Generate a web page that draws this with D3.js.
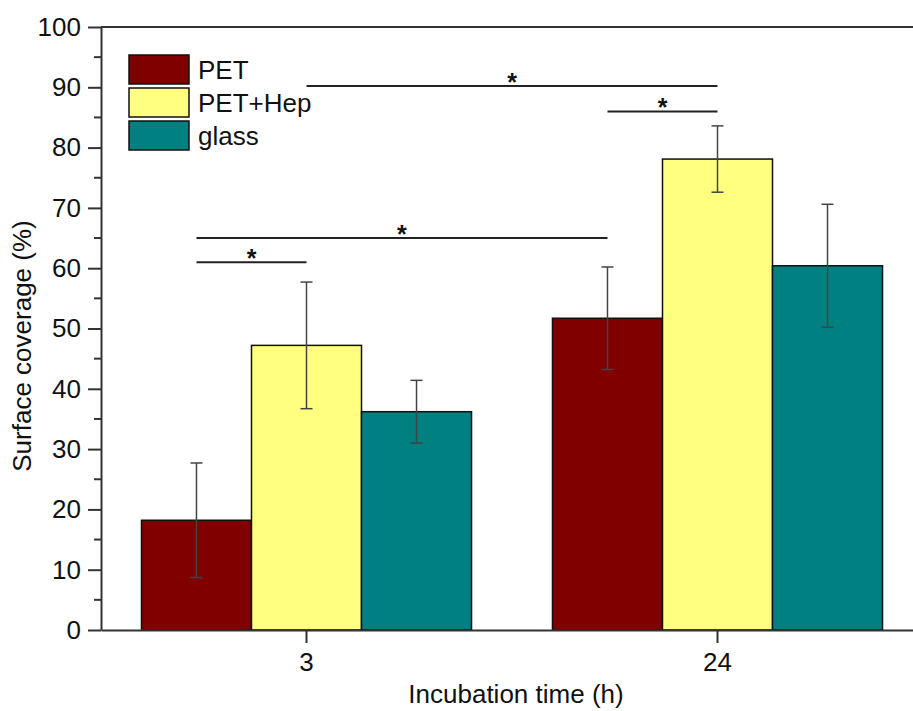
<!DOCTYPE html>
<html>
<head>
<meta charset="utf-8">
<script src="https://cdn.jsdelivr.net/npm/d3@7"></script>
<style>
  body { margin: 0; background: #fff; }
  svg { display: block; font-family: "Liberation Sans", Arial, sans-serif; }
</style>
</head>
<body>
<svg id="chart" width="913" height="711"></svg>
<script>
// ---- data ----
const categories = ["3", "24"];
const seriesNames = ["PET", "PET+Hep", "glass"];
const PET = [18.2, 51.7];
const PETHep = [47.2, 78.1];
const glass = [36.2, 60.4];
const PET_err = [9.5, 8.5];
const PETHep_err = [10.5, 5.5];
const glass_err = [5.2, 10.2];
const yTicks = [0, 10, 20, 30, 40, 50, 60, 70, 80, 90, 100];
// significance brackets: [category1, series1, category2, series2, level]
const sigBrackets = [
  ["3", "PET", "3", "PET+Hep", 61],
  ["3", "PET", "24", "PET", 65],
  ["24", "PET", "24", "PET+Hep", 86],
  ["3", "PET+Hep", "24", "PET+Hep", 90.2]
];
const colors = ["#800000", "#FFFF80", "#008080"];

(function () {
const values = [PET, PETHep, glass];
const errs = [PET_err, PETHep_err, glass_err];

const svg = d3.select("#chart");
const mLeft = 101, mRight = 923, mTop = 27, mBottom = 630;

const x = d3.scaleBand().domain(categories).range([mLeft, mRight])
  .paddingInner(0.197).paddingOuter(0.0985);
const xs = d3.scaleBand().domain(seriesNames).range([0, x.bandwidth()]);
const y = d3.scaleLinear().domain([0, 100]).range([mBottom, mTop]);

const rows = [];
categories.forEach((c, ci) => {
  seriesNames.forEach((s, si) => {
    rows.push({cat: c, ser: s, v: values[si][ci], e: errs[si][ci], color: colors[si]});
  });
});

// bars
svg.append("g").selectAll("rect").data(rows).join("rect")
  .attr("x", d => x(d.cat) + xs(d.ser))
  .attr("y", d => y(d.v))
  .attr("width", xs.bandwidth())
  .attr("height", d => y(0) - y(d.v))
  .attr("fill", d => d.color)
  .attr("stroke", "#111")
  .attr("stroke-width", 1.5);

// error bars
const eb = svg.append("g").attr("stroke", "#444").attr("stroke-width", 1.5);
rows.forEach(d => {
  const cx = x(d.cat) + xs(d.ser) + xs.bandwidth() / 2;
  eb.append("line").attr("x1", cx).attr("x2", cx).attr("y1", y(d.v + d.e)).attr("y2", y(d.v - d.e));
  [d.v + d.e, d.v - d.e].forEach(v => {
    eb.append("line").attr("x1", cx - 6).attr("x2", cx + 6).attr("y1", y(v)).attr("y2", y(v));
  });
});

// significance brackets
const sg = svg.append("g");
sigBrackets.forEach(b => {
  const x1 = x(b[0]) + xs(b[1]) + xs.bandwidth() / 2;
  const x2 = x(b[2]) + xs(b[3]) + xs.bandwidth() / 2;
  sg.append("line").attr("x1", x1).attr("x2", x2).attr("y1", y(b[4])).attr("y2", y(b[4]))
    .attr("stroke", "#222").attr("stroke-width", 2);
  sg.append("text").attr("x", (x1 + x2) / 2).attr("y", y(b[4]) + 5)
    .attr("text-anchor", "middle").attr("font-size", 25).attr("font-weight", "bold")
    .attr("fill", "#111").text("*");
});

// axes
const yAxis = d3.axisLeft(y).tickValues(yTicks).tickSize(13).tickPadding(7).tickSizeOuter(0);
const gy = svg.append("g").attr("transform", `translate(${mLeft},0)`).call(yAxis);
gy.selectAll("text").attr("font-size", 26).attr("fill", "#111").attr("font-family", "Liberation Sans, Arial, sans-serif");
gy.selectAll("line").attr("stroke", "#333").attr("stroke-width", 2);
gy.select(".domain").attr("stroke", "#333").attr("stroke-width", 2);

// minor ticks
const minor = d3.range(5, 100, 10);
svg.append("g").selectAll("line").data(minor).join("line")
  .attr("x1", mLeft - 7).attr("x2", mLeft).attr("y1", d => y(d)).attr("y2", d => y(d))
  .attr("stroke", "#333").attr("stroke-width", 2);

const xAxis = d3.axisBottom(x).tickSize(13).tickPadding(10).tickSizeOuter(0);
const gx = svg.append("g").attr("transform", `translate(0,${mBottom})`).call(xAxis);
gx.selectAll("text").attr("font-size", 26).attr("fill", "#111").attr("font-family", "Liberation Sans, Arial, sans-serif");
gx.selectAll("line").attr("stroke", "#333").attr("stroke-width", 2);
gx.select(".domain").attr("stroke", "#333").attr("stroke-width", 2);

// frame top & right
svg.append("line").attr("x1", mLeft).attr("x2", mRight).attr("y1", mTop).attr("y2", mTop)
  .attr("stroke", "#333").attr("stroke-width", 2);
svg.append("line").attr("x1", mRight).attr("x2", mRight).attr("y1", mTop).attr("y2", mBottom)
  .attr("stroke", "#333").attr("stroke-width", 2);

// axis titles
svg.append("text").attr("x", 516).attr("y", 703).attr("text-anchor", "middle")
  .attr("font-size", 26).attr("fill", "#111").text("Incubation time (h)");
svg.append("text").attr("transform", "translate(31,346) rotate(-90)").attr("text-anchor", "middle")
  .attr("font-size", 26).attr("fill", "#111").text("Surface coverage (%)");

// legend
const lg = svg.append("g").attr("transform", "translate(129,55)");
seriesNames.forEach((s, i) => {
  lg.append("rect").attr("x", 0).attr("y", i * 33).attr("width", 60).attr("height", 29)
    .attr("fill", colors[i]).attr("stroke", "#111").attr("stroke-width", 1.5);
  lg.append("text").attr("x", 69).attr("y", i * 33 + 24).attr("font-size", 26).attr("fill", "#111").text(s);
});
})();
</script>
</body>
</html>
